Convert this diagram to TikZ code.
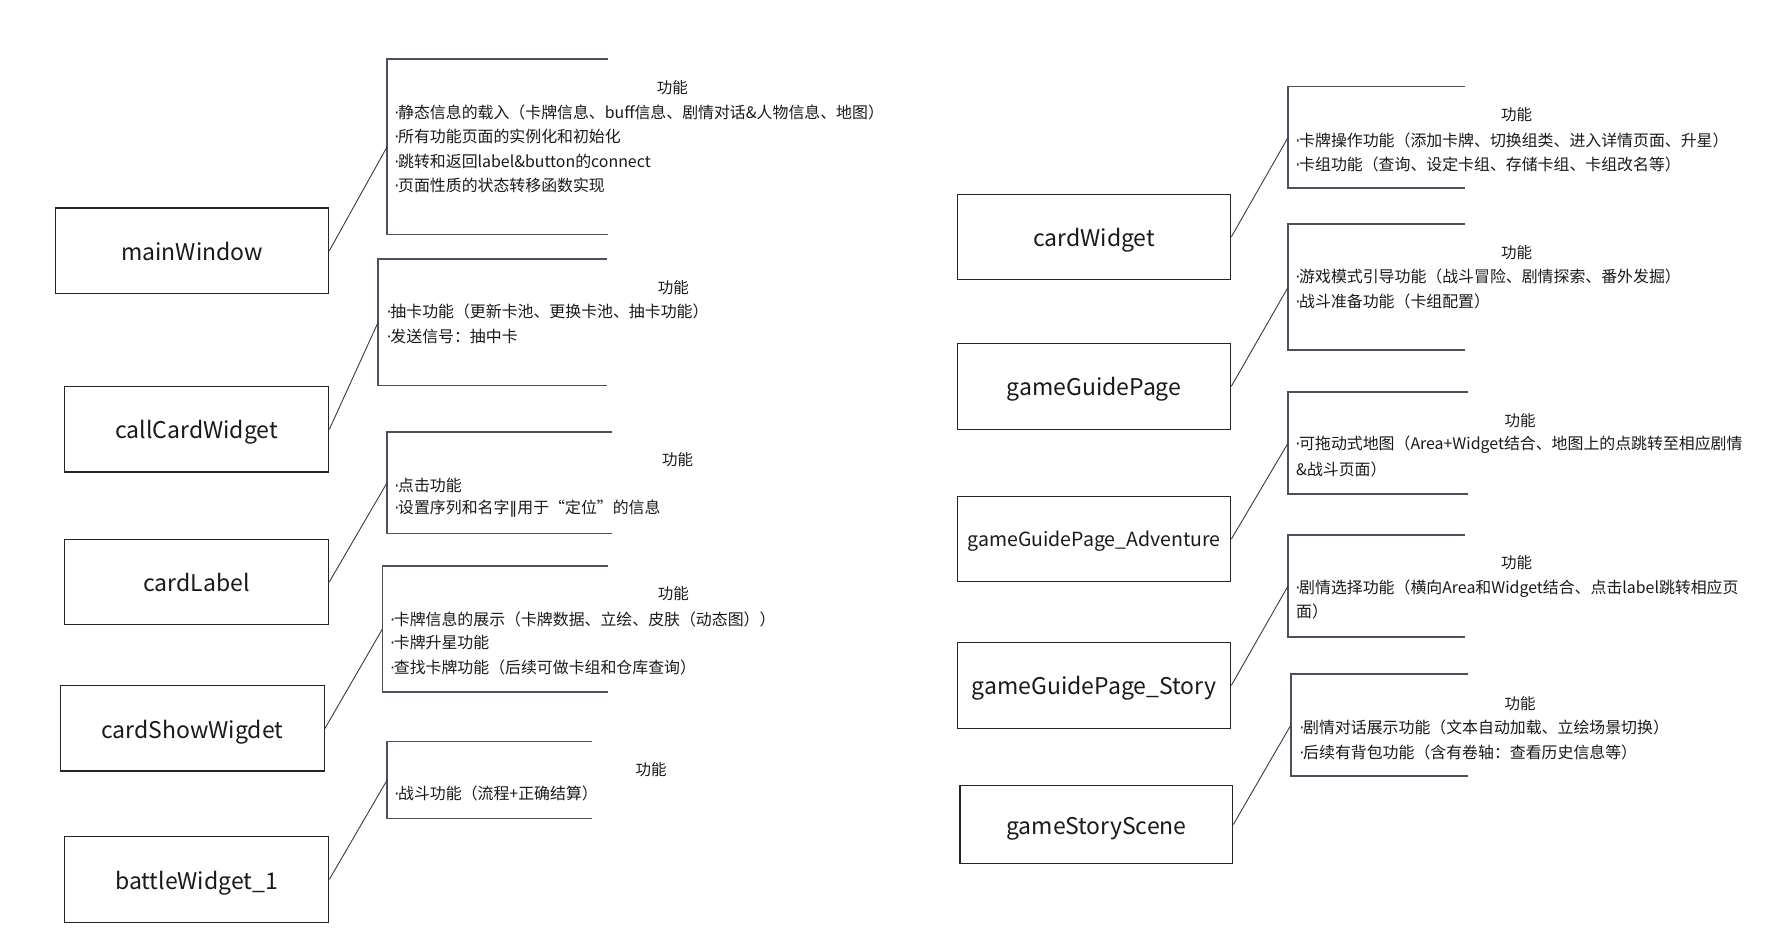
\documentclass[tikz,border=0pt]{standalone}
\usepackage{fontspec}
\setmainfont{Noto Sans CJK SC}
\newfontfamily\narrowfont{DejaVu Sans}
% narrow list dot and double bar, set in a proportional font
\newcommand{\ldot}{{\narrowfont\kern-0.05em·\kern-0.08em}}
\newcommand{\dbar}{{\narrowfont ‖}}
\begin{document}
\begin{tikzpicture}[x=1pt,y=-1pt,
  box/.style={draw=boxline,line width=1.3pt,inner sep=0pt,font=\fontsize{23}{28}\selectfont,text=ink,
    text height=19.2pt,text depth=0pt},
  fnarea/.style={inner sep=0pt},
  bracketline/.style={draw=brline,line width=1.6pt},
  link/.style={draw=linkc,line width=0.9pt},
  head/.style={inner sep=0pt,font=\fontsize{15.5}{18}\selectfont,text=ink},
  item/.style={anchor=west,inner sep=0pt,font=\fontsize{15.9}{18}\selectfont,text=ink}]
\definecolor{boxline}{HTML}{24242E}
\definecolor{brline}{HTML}{4E4E5E}
\definecolor{linkc}{HTML}{3A3A44}
\definecolor{ink}{HTML}{1A1A1A}
\useasboundingbox[fill=white] (0,0) rectangle (1783,948);

% ---- class boxes, left column
\node[box,minimum width=273pt,minimum height=85.4pt] (mw) at (192.2,250.7) {mainWindow};
\node[box,minimum width=264.2pt,minimum height=85.3pt] (cc) at (196.6,429.3) {callCardWidget};
\node[box,minimum width=264.2pt,minimum height=84.9pt] (cl) at (196.6,581.8) {cardLabel};
\node[box,minimum width=263.8pt,minimum height=85.3pt] (cs) at (192.4,728.4) {cardShowWigdet};
\node[box,minimum width=264.2pt,minimum height=85.8pt] (bw) at (196.6,879.4) {battleWidget\_1};

% ---- class boxes, right column
\node[box,minimum width=273.2pt,minimum height=85pt] (cw) at (1094.1,236.8) {cardWidget};
\node[box,minimum width=273.2pt,minimum height=86pt] (gg) at (1094.1,386.3) {gameGuidePage};
\node[box,minimum width=273.2pt,minimum height=84.5pt,font=\fontsize{19.5}{24}\selectfont,
  text height=14.4pt] (ga) at (1094.1,539.05) {gameGuidePage\_Adventure};
\node[box,minimum width=273.2pt,minimum height=85.9pt] (gs) at (1094.1,685.35) {gameGuidePage\_Story};
\node[box,minimum width=272.7pt,minimum height=77.6pt] (gc) at (1096.35,824.5) {gameStoryScene};

% ---- feature areas (open on the right)
\node[fnarea,minimum width=220pt,minimum height=175pt] (f1) at (497.3,146.8) {};
\node[fnarea,minimum width=228pt,minimum height=126pt] (f2) at (492.3,322.3) {};
\node[fnarea,minimum width=224.4pt,minimum height=101.3pt] (f3) at (499.5,482.65) {};
\node[fnarea,minimum width=224.6pt,minimum height=125.7pt] (f4) at (495,628.85) {};
\node[fnarea,minimum width=204.4pt,minimum height=76.6pt] (f5) at (489.5,780) {};
\node[fnarea,minimum width=176.7pt,minimum height=101.3pt] (f6) at (1376.65,137.35) {};
\node[fnarea,minimum width=176.7pt,minimum height=125.7pt] (f7) at (1376.65,287.15) {};
\node[fnarea,minimum width=179.4pt,minimum height=101.4pt] (f8) at (1378,443) {};
\node[fnarea,minimum width=176.7pt,minimum height=101.7pt] (f9) at (1376.65,585.85) {};
\node[fnarea,minimum width=176.7pt,minimum height=101.7pt] (f10) at (1379.35,725.15) {};

\foreach \f in {f1,f2,f3,f4,f5,f6,f7,f8,f9,f10}
  \draw[bracketline] (\f.north east) -- (\f.north west) -- (\f.south west) -- (\f.south east);

% ---- connectors
\draw[link] (mw.east) -- (f1.west);
\draw[link] (cc.east) -- (f2.west);
\draw[link] (cl.east) -- (f3.west);
\draw[link] (cs.east) -- (f4.west);
\draw[link] (bw.east) -- (f5.west);
\draw[link] (cw.east) -- (f6.west);
\draw[link] (gg.east) -- (f7.west);
\draw[link] (ga.east) -- (f8.west);
\draw[link] (gs.east) -- (f9.west);
\draw[link] (gc.east) -- (f10.west);

% ---- feature texts, left column
\node[head] (h1) at (672.3,87.7) {功能};
\node[item] (t1a) at (395,112.7) {\ldot 静态信息的载入（卡牌信息、buff信息、剧情对话\&人物信息、地图）};
\node[item] (t1b) at (395,136.7) {\ldot 所有功能页面的实例化和初始化};
\node[item] (t1c) at (395,161) {\ldot 跳转和返回label\&button的connect};
\node[item] (t1d) at (395,185.7) {\ldot 页面性质的状态转移函数实现};

\node[head] (h2) at (673.3,287.7) {功能};
\node[item] (t2a) at (387.3,311.7) {\ldot 抽卡功能（更新卡池、更换卡池、抽卡功能）};
\node[item] (t2b) at (387.3,336.7) {\ldot 发送信号：抽中卡};

\node[head] (h3) at (677.7,460) {功能};
\node[item] (t3a) at (395,485) {\ldot 点击功能};
\node[item] (t3b) at (395,508.3) {\ldot 设置序列和名字\dbar 用于“定位”的信息};

\node[head] (h4) at (673.3,593.3) {功能};
\node[item] (t4a) at (390.7,619.3) {\ldot 卡牌信息的展示（卡牌数据、立绘、皮肤（动态图））};
\node[item] (t4b) at (390.7,642.7) {\ldot 卡牌升星功能};
\node[item] (t4c) at (390.7,667.3) {\ldot 查找卡牌功能（后续可做卡组和仓库查询）};

\node[head] (h5) at (651,770) {功能};
\node[item] (t5a) at (395,793.3) {\ldot 战斗功能（流程+正确结算）};

% ---- feature texts, right column
\node[head] (h6) at (1516.7,115) {功能};
\node[item] (t6a) at (1296,140) {\ldot 卡牌操作功能（添加卡牌、切换组类、进入详情页面、升星）};
\node[item] (t6b) at (1296,164.3) {\ldot 卡组功能（查询、设定卡组、存储卡组、卡组改名等）};

\node[head] (h7) at (1516.7,252.7) {功能};
\node[item] (t7a) at (1296,276.7) {\ldot 游戏模式引导功能（战斗冒险、剧情探索、番外发掘）};
\node[item] (t7b) at (1296,301.7) {\ldot 战斗准备功能（卡组配置）};

\node[head] (h8) at (1520,420.7) {功能};
\node[item] (t8a) at (1296,445) {\ldot 可拖动式地图（Area+Widget结合、地图上的点跳转至相应剧情};
\node[item] (t8b) at (1296,469.3) {\&战斗页面）};

\node[head] (h9) at (1516.7,562.7) {功能};
\node[item] (t9a) at (1296,588.3) {\ldot 剧情选择功能（横向Area和Widget结合、点击label跳转相应页};
\node[item] (t9b) at (1296,611.7) {面）};

\node[head] (h10) at (1520,703.3) {功能};
\node[item] (t10a) at (1300,727.3) {\ldot 剧情对话展示功能（文本自动加载、立绘场景切换）};
\node[item] (t10b) at (1300,752.7) {\ldot 后续有背包功能（含有卷轴：查看历史信息等）};
\end{tikzpicture}
\end{document}
